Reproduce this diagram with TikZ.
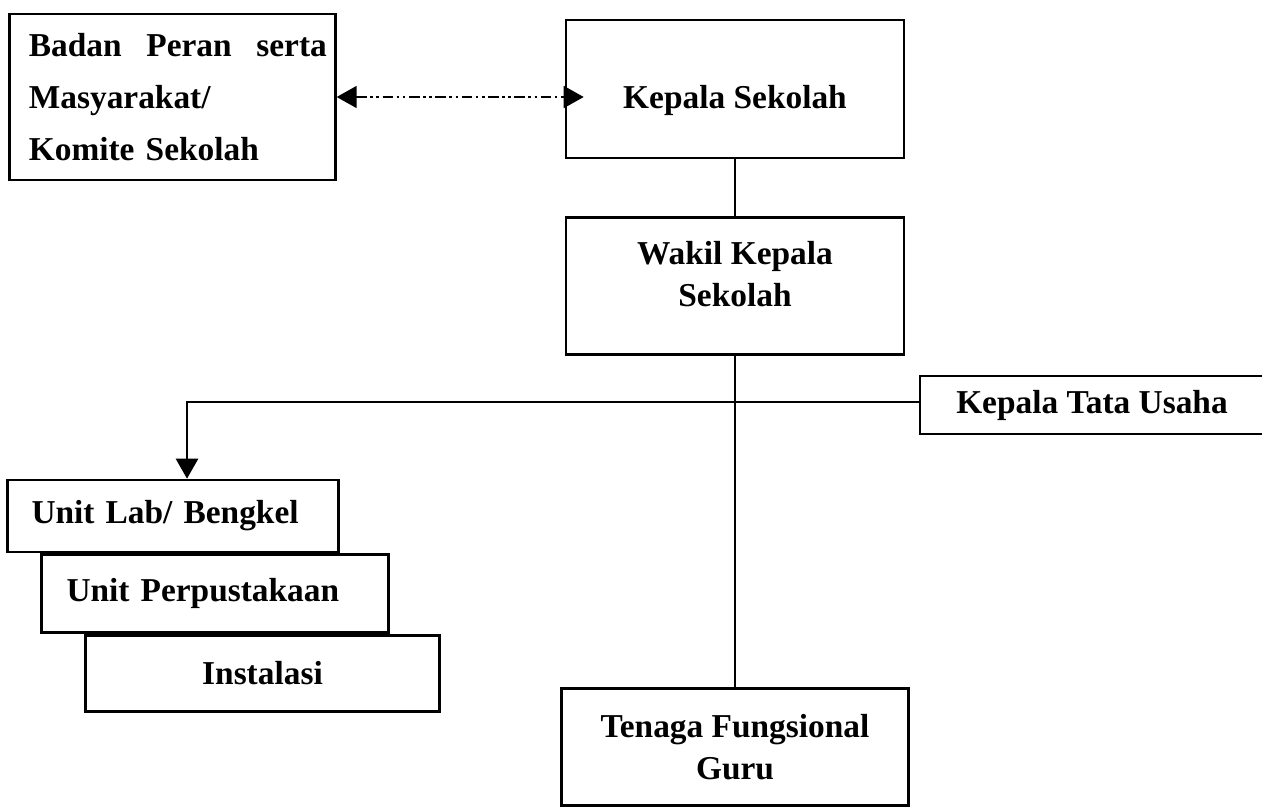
\documentclass[tikz,border=0pt]{standalone}
\usepackage{fontspec}
\setmainfont{Liberation Serif}
\usetikzlibrary{positioning, arrows.meta}
\tikzset{%
  every box/.style={
    rectangle,
    draw,
    line width=1.5pt,
    inner sep=0pt,
    font=\fontsize{19}{24}\selectfont\bfseries
  }
}

\begin{document}
\begin{tikzpicture}[>={Triangle[length=0.4cm,width=0.44cm]}]
		\useasboundingbox (0,0) rectangle (25.24,-16.16);
		%% top
		\node[every box, minimum width=6.76cm, minimum height=2.76cm, text height=0.78cm, text depth=0pt] (kepala) at (14.70,-1.78) {Kepala Sekolah};
		\node[every box, minimum width=6.52cm, minimum height=3.32cm, text width=6.18cm, inner xsep=0.17cm, align=left,
		  font=\fontsize{19}{29.6}\selectfont\bfseries, yshift=-0.16cm, left=4.56cm of kepala] (badan)
		  {\hspace*{0.22cm}Badan\hfill Peran\hfill serta\\\hspace*{0.22cm}Masyarakat/\\\hspace*{0.22cm}Komite Sekolah};
		\node[every box, minimum width=6.76cm, minimum height=2.74cm, align=center, below=1.14cm of kepala] (wakil) {Wakil Kepala\\Sekolah\\[-0.37cm]};
		%% middle
		\node[every box, minimum width=6.88cm, minimum height=1.16cm] (kta) at (21.84,-8.10) {Kepala Tata Usaha};
		\node[every box, minimum width=6.94cm, minimum height=2.34cm, align=center, below=6.62cm of wakil] (guru) {Tenaga Fungsional\\Guru};
		%% units
		\node[every box, minimum height=1.44cm, text width=5.66cm, inner xsep=0.48cm, align=left] (lab) at (3.46,-10.32) {Unit Lab/ Bengkel};
		\node[every box, minimum height=1.56cm, text width=5.94cm, inner xsep=0.5cm, align=left, anchor=north west, xshift=0.68cm] (perpus) at (lab.south west) {Unit Perpustakaan};
		\node[every box, minimum width=7.08cm, minimum height=1.52cm, anchor=north west, xshift=0.88cm] (inst) at (perpus.south west) {Instalasi};
		%% connections
		\draw[<->, line width=1pt, dash pattern=on 6pt off 2pt on 1.5pt off 2pt on 1.5pt off 2pt, shorten >=-0.38cm] (badan.east) -- (badan.east -| kepala.west);
		\draw[line width=1.5pt] (kepala.south -| wakil.north) -- (wakil.north);
		\draw[line width=1.5pt] (wakil.south) -- (guru.north -| wakil.south);
		\coordinate (turn) at (3.74,-8.04);
		\draw[->, line width=1.5pt] (kta.west |- turn) -- (turn) -- (turn |- lab.north);
	\end{tikzpicture}
\end{document}
